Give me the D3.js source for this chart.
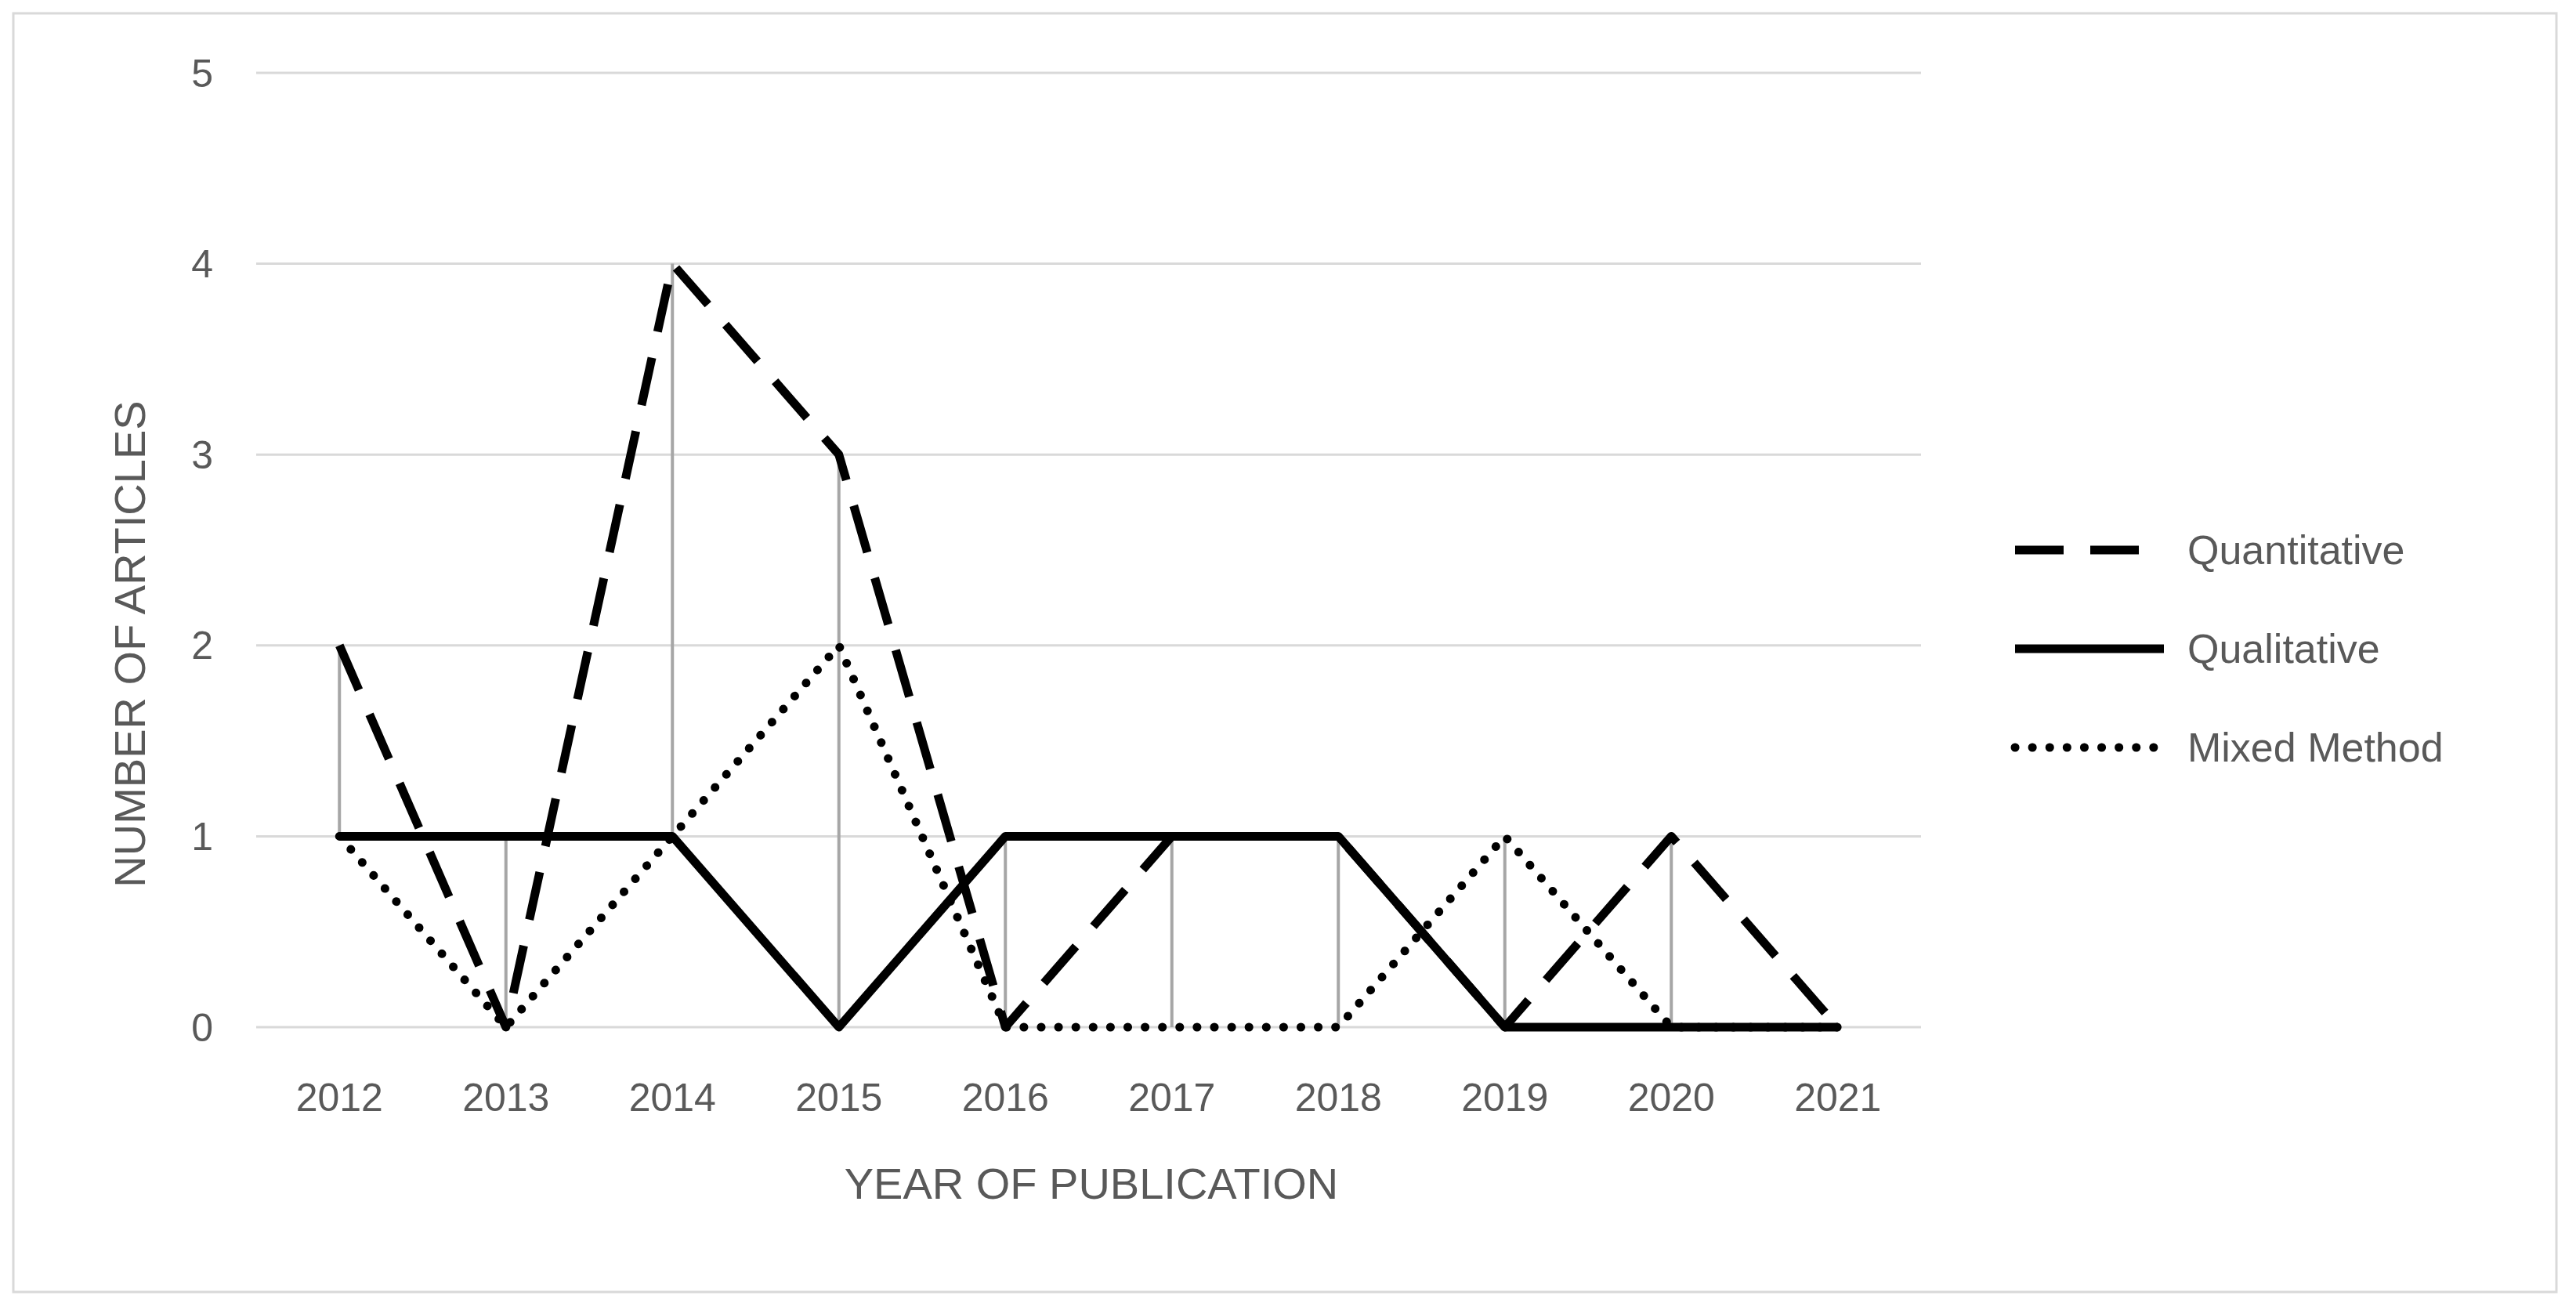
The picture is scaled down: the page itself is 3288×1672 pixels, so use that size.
<!DOCTYPE html>
<html><head><meta charset="utf-8">
<script src="https://cdn.jsdelivr.net/npm/d3@7"></script>
<style>body{margin:0;background:#fff}</style>
</head><body>
<svg id="chart" width="3288" height="1672"></svg>
<script>
// Data
const years = ["2012","2013","2014","2015","2016","2017","2018","2019","2020","2021"];
const quantitative = [2,0,4,3,0,1,1,0,1,0];
const qualitative = [1,1,1,0,1,1,1,0,0,0];
const mixedMethod = [1,0,1,2,0,0,0,1,0,0];
const yTicks = [0,1,2,3,4,5];

const series = [
    {name: "Quantitative", values: quantitative, dash: "62,34", cap: "butt"},
    {name: "Qualitative", values: qualitative, dash: null, cap: "butt"},
    {name: "Mixed Method", values: mixedMethod, dash: "0.1,22", cap: "round"}
];

const svg = d3.select("#chart");
const textColor = "#595959";
const font = "'Liberation Sans', Arial, sans-serif";

svg.append("rect").attr("x", 17).attr("y", 17).attr("width", 3246).attr("height", 1632)
    .attr("fill", "none").attr("stroke", "#d9d9d9").attr("stroke-width", 3);

const plotLeft = 327, plotRight = 2452, plotTop = 93, plotBottom = 1311;
const x = d3.scalePoint().domain(years).range([plotLeft, plotRight]).padding(0.5);
const y = d3.scaleLinear().domain([0, 5]).range([plotBottom, plotTop]);

// Gridlines
svg.append("g").selectAll("line").data(yTicks).join("line")
    .attr("x1", plotLeft).attr("x2", plotRight)
    .attr("y1", d => y(d)).attr("y2", d => y(d))
    .attr("stroke", "#d9d9d9").attr("stroke-width", 3);

// Y tick labels
svg.append("g").selectAll("text").data(yTicks).join("text")
    .attr("x", 272).attr("y", d => y(d)).attr("dy", "0.35em")
    .attr("text-anchor", "end").attr("font-family", font).attr("font-size", 50)
    .attr("fill", textColor).text(d => d);

// X tick labels
svg.append("g").selectAll("text").data(years).join("text")
    .attr("x", d => x(d)).attr("y", 1418)
    .attr("text-anchor", "middle").attr("font-family", font).attr("font-size", 50)
    .attr("fill", textColor).text(d => d);

// High-low lines
svg.append("g").selectAll("line").data(years).join("line")
    .attr("x1", d => x(d)).attr("x2", d => x(d))
    .attr("y1", (d, i) => y(d3.max(series, s => s.values[i])))
    .attr("y2", (d, i) => y(d3.min(series, s => s.values[i])))
    .attr("stroke", "#a6a6a6").attr("stroke-width", 4);

// Series lines
const line = d3.line().x((d, i) => x(years[i])).y(d => y(d));
series.forEach(s => {
    svg.append("path").datum(s.values).attr("d", line)
        .attr("fill", "none").attr("stroke", "#000").attr("stroke-width", 11)
        .attr("stroke-linejoin", "round").attr("stroke-linecap", s.cap)
        .attr("stroke-dasharray", s.dash);
});

// Axis titles
svg.append("text").attr("x", 1393).attr("y", 1530)
    .attr("text-anchor", "middle").attr("font-family", font).attr("font-size", 56)
    .attr("fill", textColor).text("YEAR OF PUBLICATION");
svg.append("text").attr("transform", `translate(185,${(plotTop + plotBottom) / 2 + 120}) rotate(-90)`)
    .attr("text-anchor", "middle").attr("font-family", font).attr("font-size", 56)
    .attr("fill", textColor).text("NUMBER OF ARTICLES");

// Legend
const legend = svg.append("g").selectAll("g").data(series).join("g")
    .attr("transform", (d, i) => `translate(2572,${702 + i * 126})`);
legend.append("line").attr("x1", 0).attr("x2", 190)
    .attr("stroke", "#000").attr("stroke-width", 11)
    .attr("stroke-linecap", d => d.cap).attr("stroke-dasharray", d => d.dash);
legend.append("text").attr("x", 220).attr("dy", "0.35em")
    .attr("font-family", font).attr("font-size", 52).attr("fill", textColor)
    .text(d => d.name);
</script>
</body></html>
